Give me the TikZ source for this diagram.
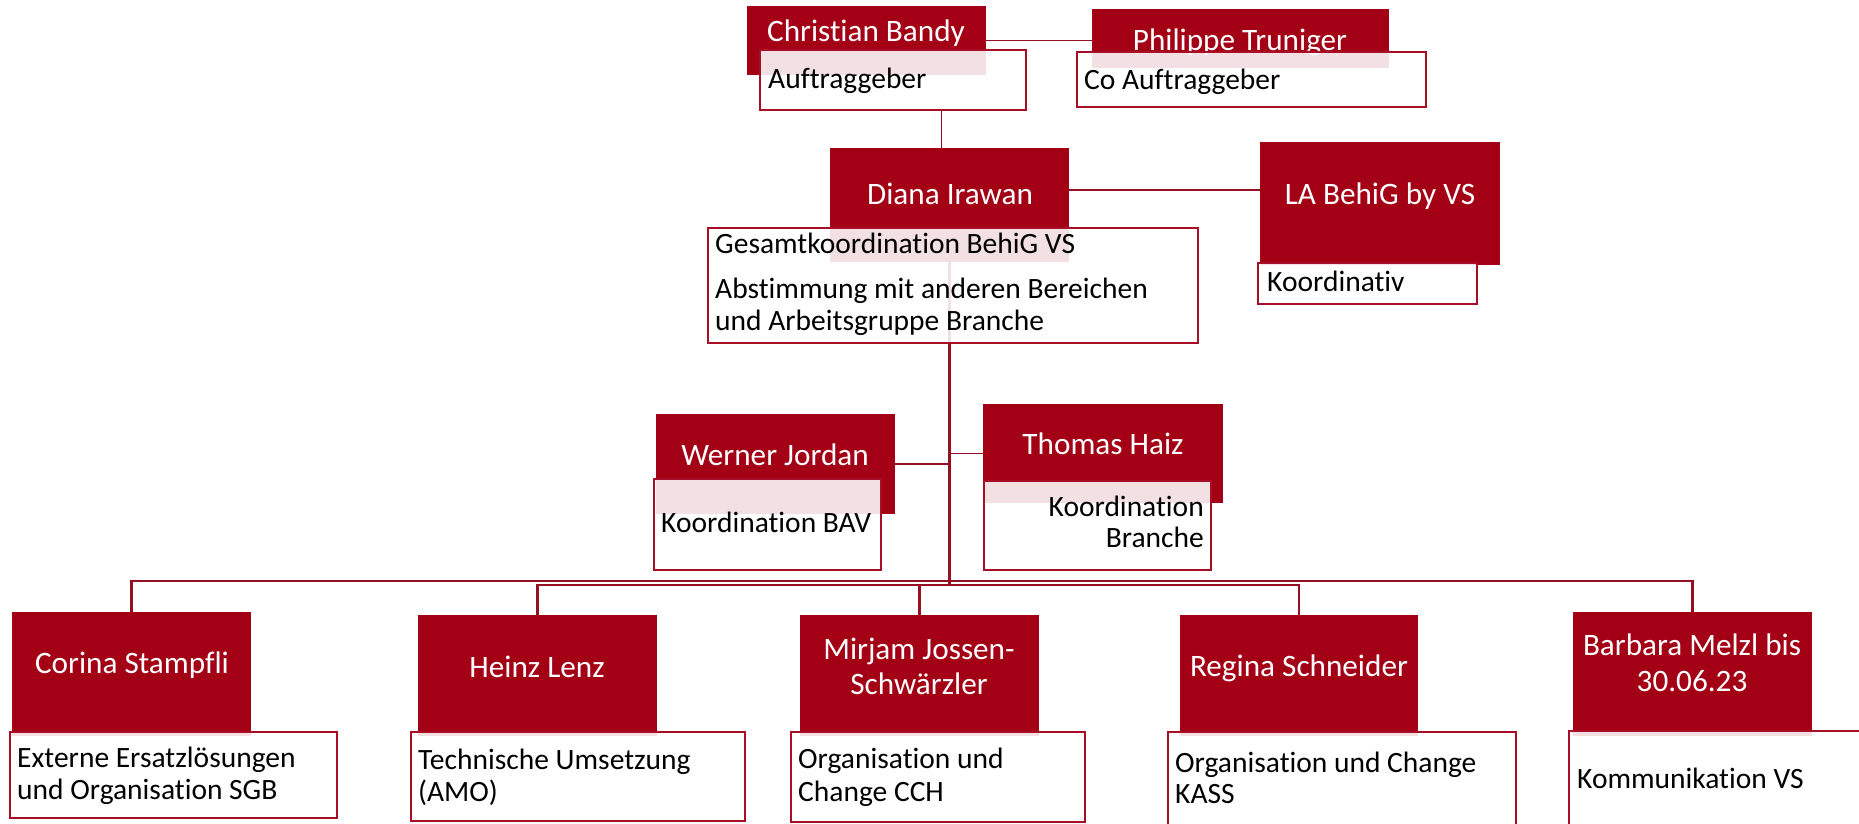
\documentclass[tikz,border=0pt]{standalone}
\usepackage{fontspec}
\setmainfont{Carlito}[Ligatures=NoCommon]
\usetikzlibrary{fit}
\definecolor{sbred}{RGB}{163,0,22}
\definecolor{sbedge}{RGB}{168,14,38}
\definecolor{sbline}{RGB}{150,16,36}
\begin{document}
\begin{tikzpicture}[x=1pt,y=-1pt,
  redbox/.style={fill=sbred, inner sep=0pt, draw=none},
  whitebox/.style={fill=white, fill opacity=0.88, draw=sbedge, line width=2.2pt, inner sep=0pt},
  nametext/.style={text=white, font=\fontsize{31.2}{35}\selectfont, inner sep=0pt, anchor=base},
  desctext/.style={text=black, font=\fontsize{29.5}{32}\selectfont, inner sep=0pt, anchor=base west},
  link/.style={draw=sbline, line width=1.5pt},
  bus/.style={draw=sbline, line width=2.2pt}]
\useasboundingbox (0,0) rectangle (1859,823);
\clip (0,0) rectangle (1859,823);
% red boxes
\node[redbox, fit={(747,6) (986,75)}] (cb) {};
\node[redbox, fit={(1092,9) (1389,68)}] (pt) {};
\node[redbox, fit={(830,148) (1069,262)}] (di) {};
\node[redbox, fit={(1260,142) (1500,265)}] (la) {};
\node[redbox, fit={(656,414) (895,514)}] (wj) {};
\node[redbox, fit={(983,404) (1223,503)}] (th) {};
\node[redbox, fit={(12,612) (251,736)}] (cs) {};
\node[redbox, fit={(418,615) (657,736)}] (hl) {};
\node[redbox, fit={(800,615) (1039,736)}] (mj) {};
\node[redbox, fit={(1180,615) (1418,736)}] (rs) {};
\node[redbox, fit={(1573,612) (1812,736)}] (bm) {};
% names
\node[nametext] (cbt) at (866,41) {Christian Bandy};
\node[nametext] (ptt) at (1240,50) {Philippe Truniger};
\node[nametext] (dit) at (950,204) {Diana Irawan};
\node[nametext] (lat) at (1380,204) {LA BehiG by VS};
\node[nametext] (wjt) at (775,465) {Werner Jordan};
\node[nametext] (tht) at (1103,454) {Thomas Haiz};
\node[nametext] (cst) at (132,673) {Corina Stampfli};
\node[nametext] (hlt) at (537,677) {Heinz Lenz};
\node[nametext] (mjt1) at (919,659) {Mirjam Jossen-};
\node[nametext] (mjt2) at (919,694) {Schwärzler};
\node[nametext] (rst) at (1299,676) {Regina Schneider};
\node[nametext] (bmt1) at (1692,655) {Barbara Melzl bis};
\node[nametext] (bmt2) at (1692,691) {30.06.23};
% connectors
\coordinate (busA) at (0,581);
\coordinate (busB) at (0,585);
\draw[link] (cb.east) -- (cb.east -| pt.west);
\draw[link] ([xshift=-8pt]di.north |- 0,110) -- ([xshift=-8pt]di.north);
\draw[link] ([yshift=15pt]di.east) -- ([yshift=15pt]di.east -| la.west);
\draw[link] (wj.east) -- (wj.east -| di.south);
\draw[link] (th.west -| di.south) -- (th.west);
\draw[bus, line width=3pt] (di.south) -- (di.south |- busB);
\draw[bus] (cs.north) -- (cs.north |- busA) -- (bm.north |- busA) -- (bm.north);
\draw[bus] (hl.north) -- (hl.north |- busB) -- (rs.north |- busB) -- (rs.north);
\draw[bus] (mj.north |- busB) -- (mj.north);
% white boxes
\node[whitebox, fit={(760,50) (1026,110)}] (auf) {};
\node[whitebox, fit={(1077,52) (1426,107)}] (co) {};
\node[whitebox, fit={(708,228) (1198,343)}] (gk) {};
\node[whitebox, fit={(1258,263) (1477,304)}] (ko) {};
\node[whitebox, fit={(654,479) (881,570)}] (bav) {};
\node[whitebox, fit={(984,481) (1211,570)}] (kb) {};
\node[whitebox, fit={(10,732) (337,818)}] (ext) {};
\node[whitebox, fit={(411,732) (745,821)}] (tu) {};
\node[whitebox, fit={(791,732) (1085,822)}] (cch) {};
\node[whitebox, fit={(1168,732) (1516,840)}] (kass) {};
\node[whitebox, fit={(1569,731) (1875,840)}] (kv) {};
% descriptions
\node[desctext] (auft) at (768,88) {Auftraggeber};
\node[desctext] (cot) at (1084,89) {Co Auftraggeber};
\node[desctext] (gkt1) at (715,253) {Gesamtkoordination BehiG VS};
\node[desctext] (gkt2) at (715,298) {Abstimmung mit anderen Bereichen};
\node[desctext] (gkt3) at (715,330) {und Arbeitsgruppe Branche};
\node[desctext] (kot) at (1267,291) {Koordinativ};
\node[desctext] (bavt) at (661,532) {Koordination BAV};
\node[desctext, anchor=base east] (kbt1) at (1204,516) {Koordination};
\node[desctext, anchor=base east] (kbt2) at (1204,547) {Branche};
\node[desctext] (extt1) at (17,767) {Externe Ersatzlösungen};
\node[desctext] (extt2) at (17,799) {und Organisation SGB};
\node[desctext] (tut1) at (418,769) {Technische Umsetzung};
\node[desctext] (tut2) at (418,801) {(AMO)};
\node[desctext] (ccht1) at (798,768) {Organisation und};
\node[desctext] (ccht2) at (798,801) {Change CCH};
\node[desctext] (kasst1) at (1175,772) {Organisation und Change};
\node[desctext] (kasst2) at (1175,803) {KASS};
\node[desctext] (kvt) at (1577,788) {Kommunikation VS};
\end{tikzpicture}
\end{document}
